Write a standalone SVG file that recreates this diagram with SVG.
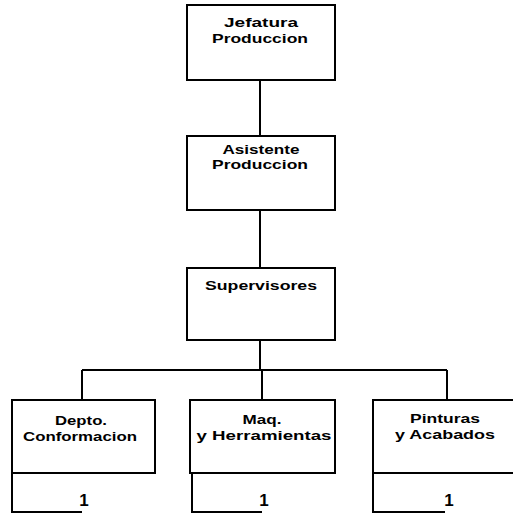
<svg xmlns="http://www.w3.org/2000/svg" width="513" height="514" viewBox="0 0 513 514">
<style>
.box{fill:#fff;stroke:#000;stroke-width:2}
.ln{fill:none;stroke:#000;stroke-width:2}
text{font-family:"Liberation Sans",Arial,sans-serif;font-weight:bold;font-size:13px;fill:#000;text-anchor:middle}
.num{font-size:17px}
</style>
<rect width="513" height="514" fill="#fff"/>
<g id="connectors">
<path class="ln" d="M260 80V136M260 210V268M260 340V370M82 370H447M82 370V400M262 370V400M447 370V400"/>
</g>
<g id="jefatura">
<rect class="box" x="187" y="5" width="148" height="75"/>
<text x="261" y="27" textLength="74" lengthAdjust="spacingAndGlyphs">Jefatura</text>
<text x="260" y="43" textLength="96" lengthAdjust="spacingAndGlyphs">Produccion</text>
</g>
<g id="asistente">
<rect class="box" x="187" y="136" width="148" height="74"/>
<text x="261" y="154" textLength="77" lengthAdjust="spacingAndGlyphs">Asistente</text>
<text x="260" y="169" textLength="96" lengthAdjust="spacingAndGlyphs">Produccion</text>
</g>
<g id="supervisores">
<rect class="box" x="187" y="268" width="148" height="72"/>
<text x="261" y="290" textLength="112" lengthAdjust="spacingAndGlyphs">Supervisores</text>
</g>
<g id="depto">
<rect class="box" x="12" y="400" width="143" height="73"/>
<text x="81" y="425" textLength="52" lengthAdjust="spacingAndGlyphs">Depto.</text>
<text x="80" y="441" textLength="114" lengthAdjust="spacingAndGlyphs">Conformacion</text>
<path class="ln" d="M12 473V512H82"/>
<text class="num" x="84" y="506">1</text>
</g>
<g id="maquinaria">
<rect class="box" x="190" y="400" width="145" height="73"/>
<text x="262" y="424" textLength="39" lengthAdjust="spacingAndGlyphs">Maq.</text>
<text x="264" y="440" textLength="135" lengthAdjust="spacingAndGlyphs">y Herramientas</text>
<path class="ln" d="M192 473V512H262"/>
<text class="num" x="264" y="506">1</text>
</g>
<g id="pinturas">
<rect class="box" x="373" y="400" width="150" height="73"/>
<text x="445" y="423" textLength="70" lengthAdjust="spacingAndGlyphs">Pinturas</text>
<text x="445" y="439" textLength="100" lengthAdjust="spacingAndGlyphs">y Acabados</text>
<path class="ln" d="M373 473V512H445"/>
<text class="num" x="449" y="506">1</text>
</g>
</svg>
